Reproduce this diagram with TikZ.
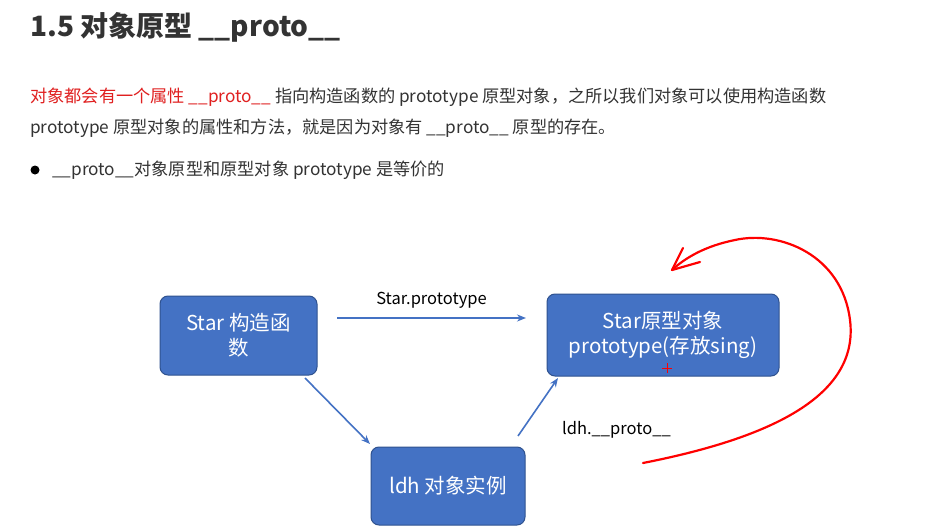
\documentclass[tikz,border=0pt]{standalone}
\usepackage{fontspec}
\setmainfont{Noto Sans CJK SC}
\usetikzlibrary{arrows.meta}
\definecolor{boxblue}{HTML}{4472C4}
\definecolor{boxedge}{HTML}{2F528F}
\definecolor{txt}{HTML}{333333}
\definecolor{redt}{HTML}{E02020}
\begin{document}
\begin{tikzpicture}[x=1pt,y=-1pt,
  bluebox/.style={draw=boxedge,fill=boxblue,rounded corners=8pt,text=white,font=\fontsize{20.5}{25}\selectfont,align=center,line width=1pt},
  conn/.style={-{Stealth[length=9pt,width=7pt]},draw=boxblue,line width=1.6pt},
  body/.style={font=\fontsize{17.2}{20}\selectfont,text=txt,anchor=west,inner sep=0}]
\useasboundingbox (0,0) rectangle (932,527);
\fill[white] (0,0) rectangle (932,527);
\node[anchor=west,inner sep=0,font=\bfseries\fontsize{28}{32}\selectfont,text=txt] (title) at (30,27) {1.5 对象原型 \_\_proto\_\_};
\node[body] (l1) at (30,97) {\textcolor{redt}{对象都会有一个属性 \_\_proto\_\_} 指向构造函数的 prototype 原型对象，之所以我们对象可以使用构造函数};
\node[body] (l2) at (30,128) {prototype 原型对象的属性和方法，就是因为对象有 \_\_proto\_\_ 原型的存在。};
\fill[black] (35,170) circle (4.5);
\node[body] (l3) at (52,170) {\_\_proto\_\_对象原型和原型对象 prototype 是等价的};
\node[bluebox,minimum width=157pt,minimum height=79pt] (star) at (238.5,335.5) {Star 构造函\\数};
\node[bluebox,minimum width=232pt,minimum height=82pt] (proto) at (663,335) {Star原型对象\\prototype(存放sing)};
\node[bluebox,minimum width=154pt,minimum height=78pt] (ldh) at (448,486) {ldh 对象实例};
\coordinate (a1) at (337,318); \coordinate (a2) at (526,318);
\draw[conn] (a1) -- (a2) node[midway,above=6pt,font=\fontsize{16.5}{18}\selectfont,text=black] (lb1) {Star.prototype};
\coordinate (b1) at (305,378); \coordinate (b2) at (370,444);
\draw[conn] (b1) -- (b2);
\coordinate (c1) at (518,436); \coordinate (c2) at (558,378);
\draw[conn] (c1) -- (c2);
\node[font=\fontsize{16.5}{18}\selectfont,anchor=west,inner sep=0] (lb2) at (562,430) {ldh.\_\_proto\_\_};
\draw[red,line width=2.2pt,line cap=round] (643,463) .. controls (760,440) and (860,400) .. (850,320)
  .. controls (842,255) and (780,230) .. (735,240) .. controls (705,246) and (685,258) .. (672,270);
\draw[red,line width=2.2pt,line cap=round] (672,270) -- (700,262);
\draw[red,line width=2.2pt,line cap=round] (672,270) -- (683,248);
\draw[red,line width=1pt] (662,368) -- (672,368) (667,363) -- (667,373);
\end{tikzpicture}
\end{document}
